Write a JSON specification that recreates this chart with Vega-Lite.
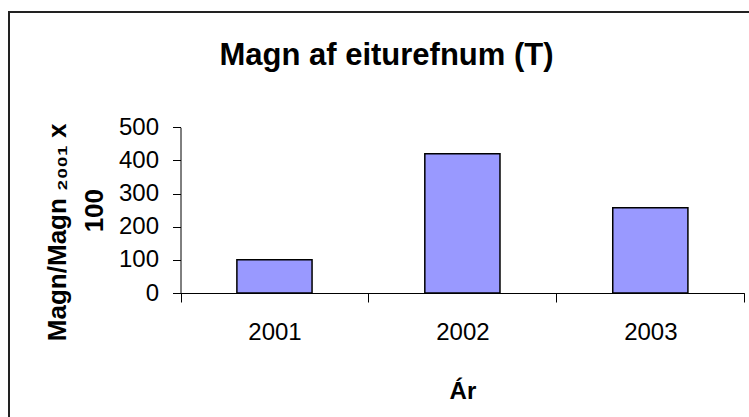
{
  "$schema": "https://vega.github.io/schema/vega-lite/v6.json",
  "autosize": {"type": "none"},
  "padding": {"left": 9, "top": 12, "right": 0, "bottom": 0},
  "width": 755,
  "height": 410,
  "background": "white",
  "config": {
    "view": {"stroke": "#222222", "strokeWidth": 2, "fill": "white"},
    "font": "Liberation Sans"
  },
  "title": {
    "text": "Magn af eiturefnum (T)",
    "font": "Liberation Sans",
    "fontSize": 31,
    "fontWeight": "bold",
    "color": "black",
    "anchor": "middle",
    "frame": "group",
    "baseline": "alphabetic",
    "offset": -84
  },
  "data": {
    "values": [
      {"year": "2001", "value": 100},
      {"year": "2002", "value": 420},
      {"year": "2003", "value": 257}
    ]
  },
  "mark": {"type": "bar", "fill": "#9999FF", "stroke": "black", "strokeWidth": 1.5, "width": {"band": 0.4}},
  "encoding": {
    "x": {
      "field": "year",
      "type": "nominal",
      "scale": {"range": [171.5, 735.3], "paddingInner": 0, "paddingOuter": 0},
      "axis": {
        "title": "Ár",
        "orient": "bottom",
        "offset": -129,
        "labelAngle": 0,
        "tickBand": "extent",
        "tickSize": 9,
        "tickColor": "black",
        "domainColor": "black",
        "labelFont": "Liberation Sans",
        "labelFontSize": 24,
        "labelColor": "black",
        "labelPadding": 18,
        "titleFont": "Liberation Sans",
        "titleFontSize": 24,
        "titleFontWeight": "bold",
        "titleColor": "black",
        "titlePadding": 35
      }
    },
    "y": {
      "field": "value",
      "type": "quantitative",
      "scale": {"domain": [0, 500], "range": [281, 115.3], "nice": false, "zero": true},
      "axis": {
        "title": ["Magn/Magn \u2082\u2080\u2080\u2081 x\u00a0\u00a0\u00a0\u00a0\u00a0\u00a0\u200b", "100"],
        "orient": "left",
        "offset": -171.5,
        "values": [0, 100, 200, 300, 400, 500],
        "grid": false,
        "tickSize": 8,
        "tickColor": "black",
        "domainColor": "black",
        "labelFont": "Liberation Sans",
        "labelFontSize": 24,
        "labelColor": "black",
        "labelPadding": 14,
        "titleFont": "Liberation Sans",
        "titleFontSize": 26,
        "titleFontWeight": "bold",
        "titleColor": "black",
        "titlePadding": 11,
        "titleLineHeight": 37
      }
    }
  }
}
